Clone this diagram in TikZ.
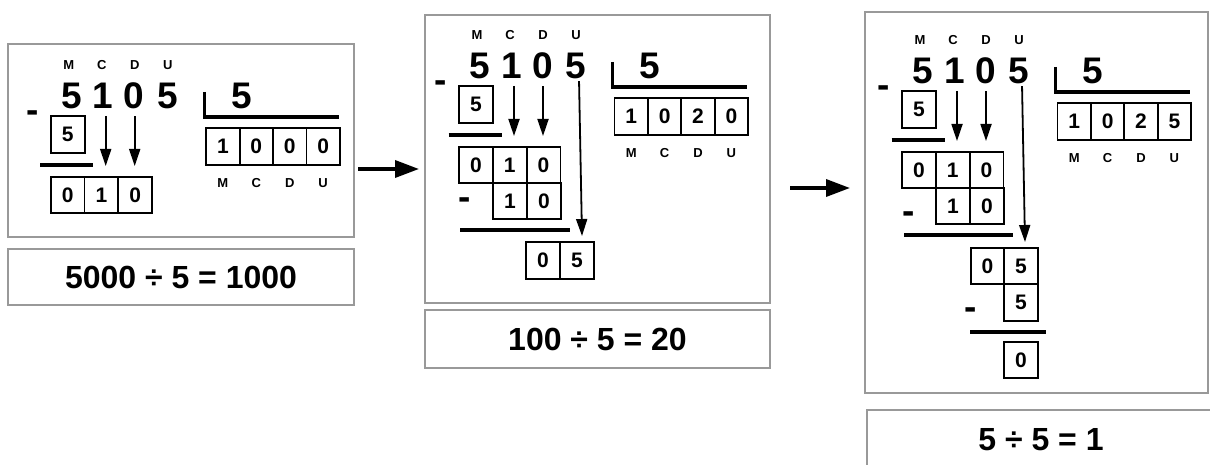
\documentclass[tikz,border=0pt]{standalone}
\usepackage{fontspec}
\setmainfont{Liberation Sans}
\usetikzlibrary{arrows.meta}
\newcommand{\myBig}{\fontsize{37}{40}\selectfont\bfseries}
\newcommand{\myLab}{\fontsize{13}{14}\selectfont\bfseries}
\newcommand{\myCell}{\fontsize{21}{24}\selectfont\bfseries}
\newcommand{\myCap}{\fontsize{32}{36}\selectfont\bfseries}
\tikzset{
  panel/.style={draw=black!40, line width=1.5pt, inner sep=0pt},
  big/.style={font=\myBig, inner sep=0pt},
  lab/.style={font=\myLab, inner sep=0pt},
  minussign/.style={font=\myBig, inner sep=0pt, anchor=base},
  cell/.style={draw, line width=1.6pt, minimum width=33.6pt, minimum height=36.5pt, inner sep=0pt, font=\myCell},
  rulel/.style={line width=3.2pt},
  brk/.style={line width=3.2pt},
  darr/.style={line width=1.8pt, -{Triangle[length=17pt,width=11pt]}},
  bigarr/.style={line width=3.5pt, -{Triangle[length=24pt,width=17pt]}}
}
\newcommand{\PanelTop}[4]{%
  \node[lab] (t1) at (0,0) {M};
  \node[lab] (t2) at (33,0) {C};
  \node[lab] (t3) at (66,0) {D};
  \node[lab] (t4) at (99,0) {U};
  \node[big] (d1) at (3,31) {5};
  \node[big] (d2) at (34.5,31) {1};
  \node[big] (d3) at (65.5,31) {0};
  \node[big] (d4) at (99,31) {5};
  \node[minussign] (m1) at (-36,58) {-};
  \coordinate (b1) at (135.5,27);
  \coordinate (b2) at (135.5,52);
  \coordinate (b3) at (270,52);
  \draw[brk] (b1) -- (b2) -- (b3);
  \node[big] (dv) at (173,31) {5};
  \node[cell] (q1) at (154.2,81.5) {#1};
  \node[cell] (q2) at (187.6,81.5) {#2};
  \node[cell] (q3) at (221,81.5) {#3};
  \node[cell] (q4) at (254.4,81.5) {#4};
  \node[lab] (ql1) at (154.2,118) {M};
  \node[lab] (ql2) at (187.6,118) {C};
  \node[lab] (ql3) at (221,118) {D};
  \node[lab] (ql4) at (254.4,118) {U};
  \node[cell, minimum width=34pt] (s1) at (-1,69.5) {5};
  \coordinate (l1a) at (-28.5,100);
  \coordinate (l1b) at (24.5,100);
  \draw[rulel] (l1a) -- (l1b);
  \node[cell] (r1) at (-1.1,130) {0};
  \node[cell] (r2) at (32.7,130) {1};
  \node[cell] (r3) at (66.5,130) {0};
  \coordinate (e1) at (37,101);
  \coordinate (e2) at (66,101);
  \draw[darr, shorten <=7pt] (d2.south -| e1) -- (e1);
  \draw[darr, shorten <=7pt] (d3.south -| e2) -- (e2);
}
\begin{document}
\begin{tikzpicture}[x=1pt, y=-1pt]
\useasboundingbox (0,0) rectangle (1210,465);
% panels and captions
\node[panel, minimum width=346pt, minimum height=193pt] (p1) at (181,140.5) {};
\node[panel, minimum width=346pt, minimum height=56pt, font=\myCap] (c1) at (181,277) {5000 ÷ 5 = 1000};
\node[panel, minimum width=345pt, minimum height=288pt] (p2) at (597.5,159) {};
\node[panel, minimum width=345pt, minimum height=58pt, font=\myCap] (c2) at (597.5,339) {100 ÷ 5 = 20};
\node[panel, minimum width=343pt, minimum height=381pt] (p3) at (1036.5,202.5) {};
\node[panel, minimum width=348pt, minimum height=60pt, font=\myCap] (c3) at (1041,440) {5 ÷ 5 = 1};
% arrows between panels
\coordinate (a1s) at (358,169);
\coordinate (a1e) at (419,169);
\draw[bigarr] (a1s) -- (a1e);
\coordinate (a2s) at (790,188);
\coordinate (a2e) at (850,188);
\draw[bigarr] (a2s) -- (a2e);
% panel 1
\begin{scope}[shift={(68.7,65)}, name prefix=A-]
  \PanelTop{1}{0}{0}{0}
\end{scope}
% panel 2
\begin{scope}[shift={(477,35)}, name prefix=B-]
  \PanelTop{1}{0}{2}{0}
  \node[cell] (u1) at (33,166) {1};
  \node[cell] (u2) at (67,166) {0};
  \node[minussign] (m2) at (-12.5,175) {-};
  \coordinate (l2a) at (-17,195);
  \coordinate (l2b) at (93,195);
  \draw[rulel] (l2a) -- (l2b);
  \coordinate (e3) at (105,201);
  \draw[darr, shorten <=2pt] ([xshift=3pt]d4.south) -- (e3);
  \node[cell] (v1) at (66,225.5) {0};
  \node[cell] (v2) at (100,225.5) {5};
\end{scope}
% panel 3
\begin{scope}[shift={(920,40)}, name prefix=C-]
  \PanelTop{1}{0}{2}{5}
  \node[cell] (u1) at (33,166) {1};
  \node[cell] (u2) at (67,166) {0};
  \node[minussign] (m2) at (-11,183) {-};
  \coordinate (l2a) at (-16,195);
  \coordinate (l2b) at (93,195);
  \draw[rulel] (l2a) -- (l2b);
  \coordinate (e3) at (105,202);
  \draw[darr, shorten <=2pt] ([xshift=3pt]d4.south) -- (e3);
  \node[cell] (v1) at (67.5,226) {0};
  \node[cell] (v2) at (101,226) {5};
  \node[cell] (w1) at (101,262.5) {5};
  \node[minussign] (m3) at (51,279) {-};
  \coordinate (l3a) at (50,292);
  \coordinate (l3b) at (126,292);
  \draw[rulel] (l3a) -- (l3b);
  \node[cell] (z1) at (101,320) {0};
\end{scope}
\end{tikzpicture}
\end{document}
